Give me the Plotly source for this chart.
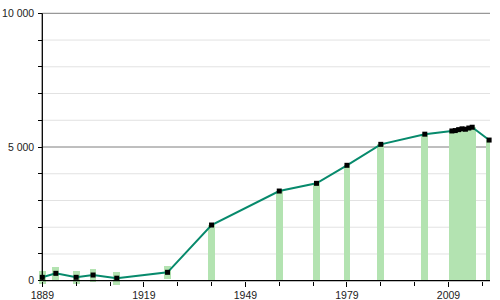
import numpy as np
import plotly.graph_objects as go

# ---- data ----
YEARS = [1889, 1893, 1899, 1904, 1911, 1926, 1939, 1959, 1970, 1979, 1989, 2002,
         2010, 2011, 2012, 2013, 2014, 2015, 2016, 2021]
POPULATION = [127, 276, 127, 213, 95, 314, 2083, 3354, 3642, 4316, 5100, 5480,
              5600, 5615, 5650, 5680, 5665, 5710, 5740, 5260]
X_TICKS = [1889, 1919, 1949, 1979, 2009]
X_TICK_LABELS = ["1889", "1919", "1949", "1979", "2009"]
Y_TICKS = [0, 5000, 10000]
Y_TICK_LABELS = ["0", "5 000", "10 000"]
GRID_MINOR = [1000, 2000, 3000, 4000, 6000, 7000, 8000, 9000]
GRID_MAJOR = [5000, 10000]

# ---- layout constants ----
X_RANGE = [1887.73, 2021.26]
Y_RANGE = [-235, 10049]
BAR_COLOR = "#b3e3b1"
LINE_COLOR = "#078a6c"
FONT = dict(family="Liberation Sans, Arial, sans-serif", size=10.5, color="#222222")

pop = np.array(POPULATION, dtype=float)
small = pop < 500
bar_base = np.where(small, pop - 250, 0.0)
bar_top = np.where(small, pop + 220, pop)

fig = go.Figure()
fig.add_trace(go.Bar(
    x=YEARS, y=bar_top - bar_base, base=bar_base, width=2.0,
    marker=dict(color=BAR_COLOR, line=dict(width=0)),
    hoverinfo="skip",
))
fig.add_trace(go.Scatter(
    x=YEARS, y=POPULATION, mode="lines+markers",
    line=dict(color=LINE_COLOR, width=2),
    marker=dict(symbol="square", size=5, color="black"),
    cliponaxis=False,
))

shapes = []
for g in GRID_MINOR:
    shapes.append(dict(type="line", xref="x", yref="y", x0=YEARS[0], x1=X_RANGE[1],
                       y0=g, y1=g, line=dict(color="#e2e2e2", width=1), layer="below"))
for g in GRID_MAJOR:
    shapes.append(dict(type="line", xref="x", yref="y", x0=YEARS[0], x1=X_RANGE[1],
                       y0=g, y1=g, line=dict(color="#7f7f7f", width=1), layer="below"))
# axis lines
shapes.append(dict(type="line", xref="x", yref="y", x0=YEARS[0], x1=YEARS[0],
                   y0=0, y1=Y_TICKS[-1], line=dict(color="black", width=1.3), layer="above"))
shapes.append(dict(type="line", xref="x", yref="y", x0=YEARS[0], x1=X_RANGE[1],
                   y0=0, y1=0, line=dict(color="black", width=1.3), layer="above"))

x_pos = (0 - Y_RANGE[0]) / (Y_RANGE[1] - Y_RANGE[0])
y_pos = (YEARS[0] - X_RANGE[0]) / (X_RANGE[1] - X_RANGE[0])

fig.update_layout(
    width=500, height=300,
    margin=dict(l=38, r=10, t=12, b=13, autoexpand=False),
    paper_bgcolor="white", plot_bgcolor="white",
    showlegend=False, bargap=0,
    font=FONT,
    shapes=shapes,
    xaxis=dict(
        range=X_RANGE, anchor="free", position=x_pos, automargin=False,
        showgrid=False, zeroline=False, showline=False,
        tickmode="array", tickvals=X_TICKS, ticktext=X_TICK_LABELS,
        ticks="outside", ticklen=5, tickcolor="black", tickwidth=1,
        minor=dict(tick0=1889, dtick=10, ticks="outside", ticklen=4,
                   tickcolor="black", tickwidth=1, showgrid=False),
        tickfont=FONT,
    ),
    yaxis=dict(
        range=Y_RANGE, anchor="free", position=y_pos, automargin=False,
        showgrid=False, zeroline=False, showline=False,
        tickmode="array", tickvals=Y_TICKS, ticktext=Y_TICK_LABELS,
        ticks="outside", ticklen=4, tickcolor="black", tickwidth=1,
        minor=dict(tick0=0, dtick=1000, ticks="outside", ticklen=4,
                   tickcolor="black", tickwidth=1, showgrid=False),
        tickfont=FONT, ticklabelstandoff=2,
    ),
)

fig.write_html("out.html")
